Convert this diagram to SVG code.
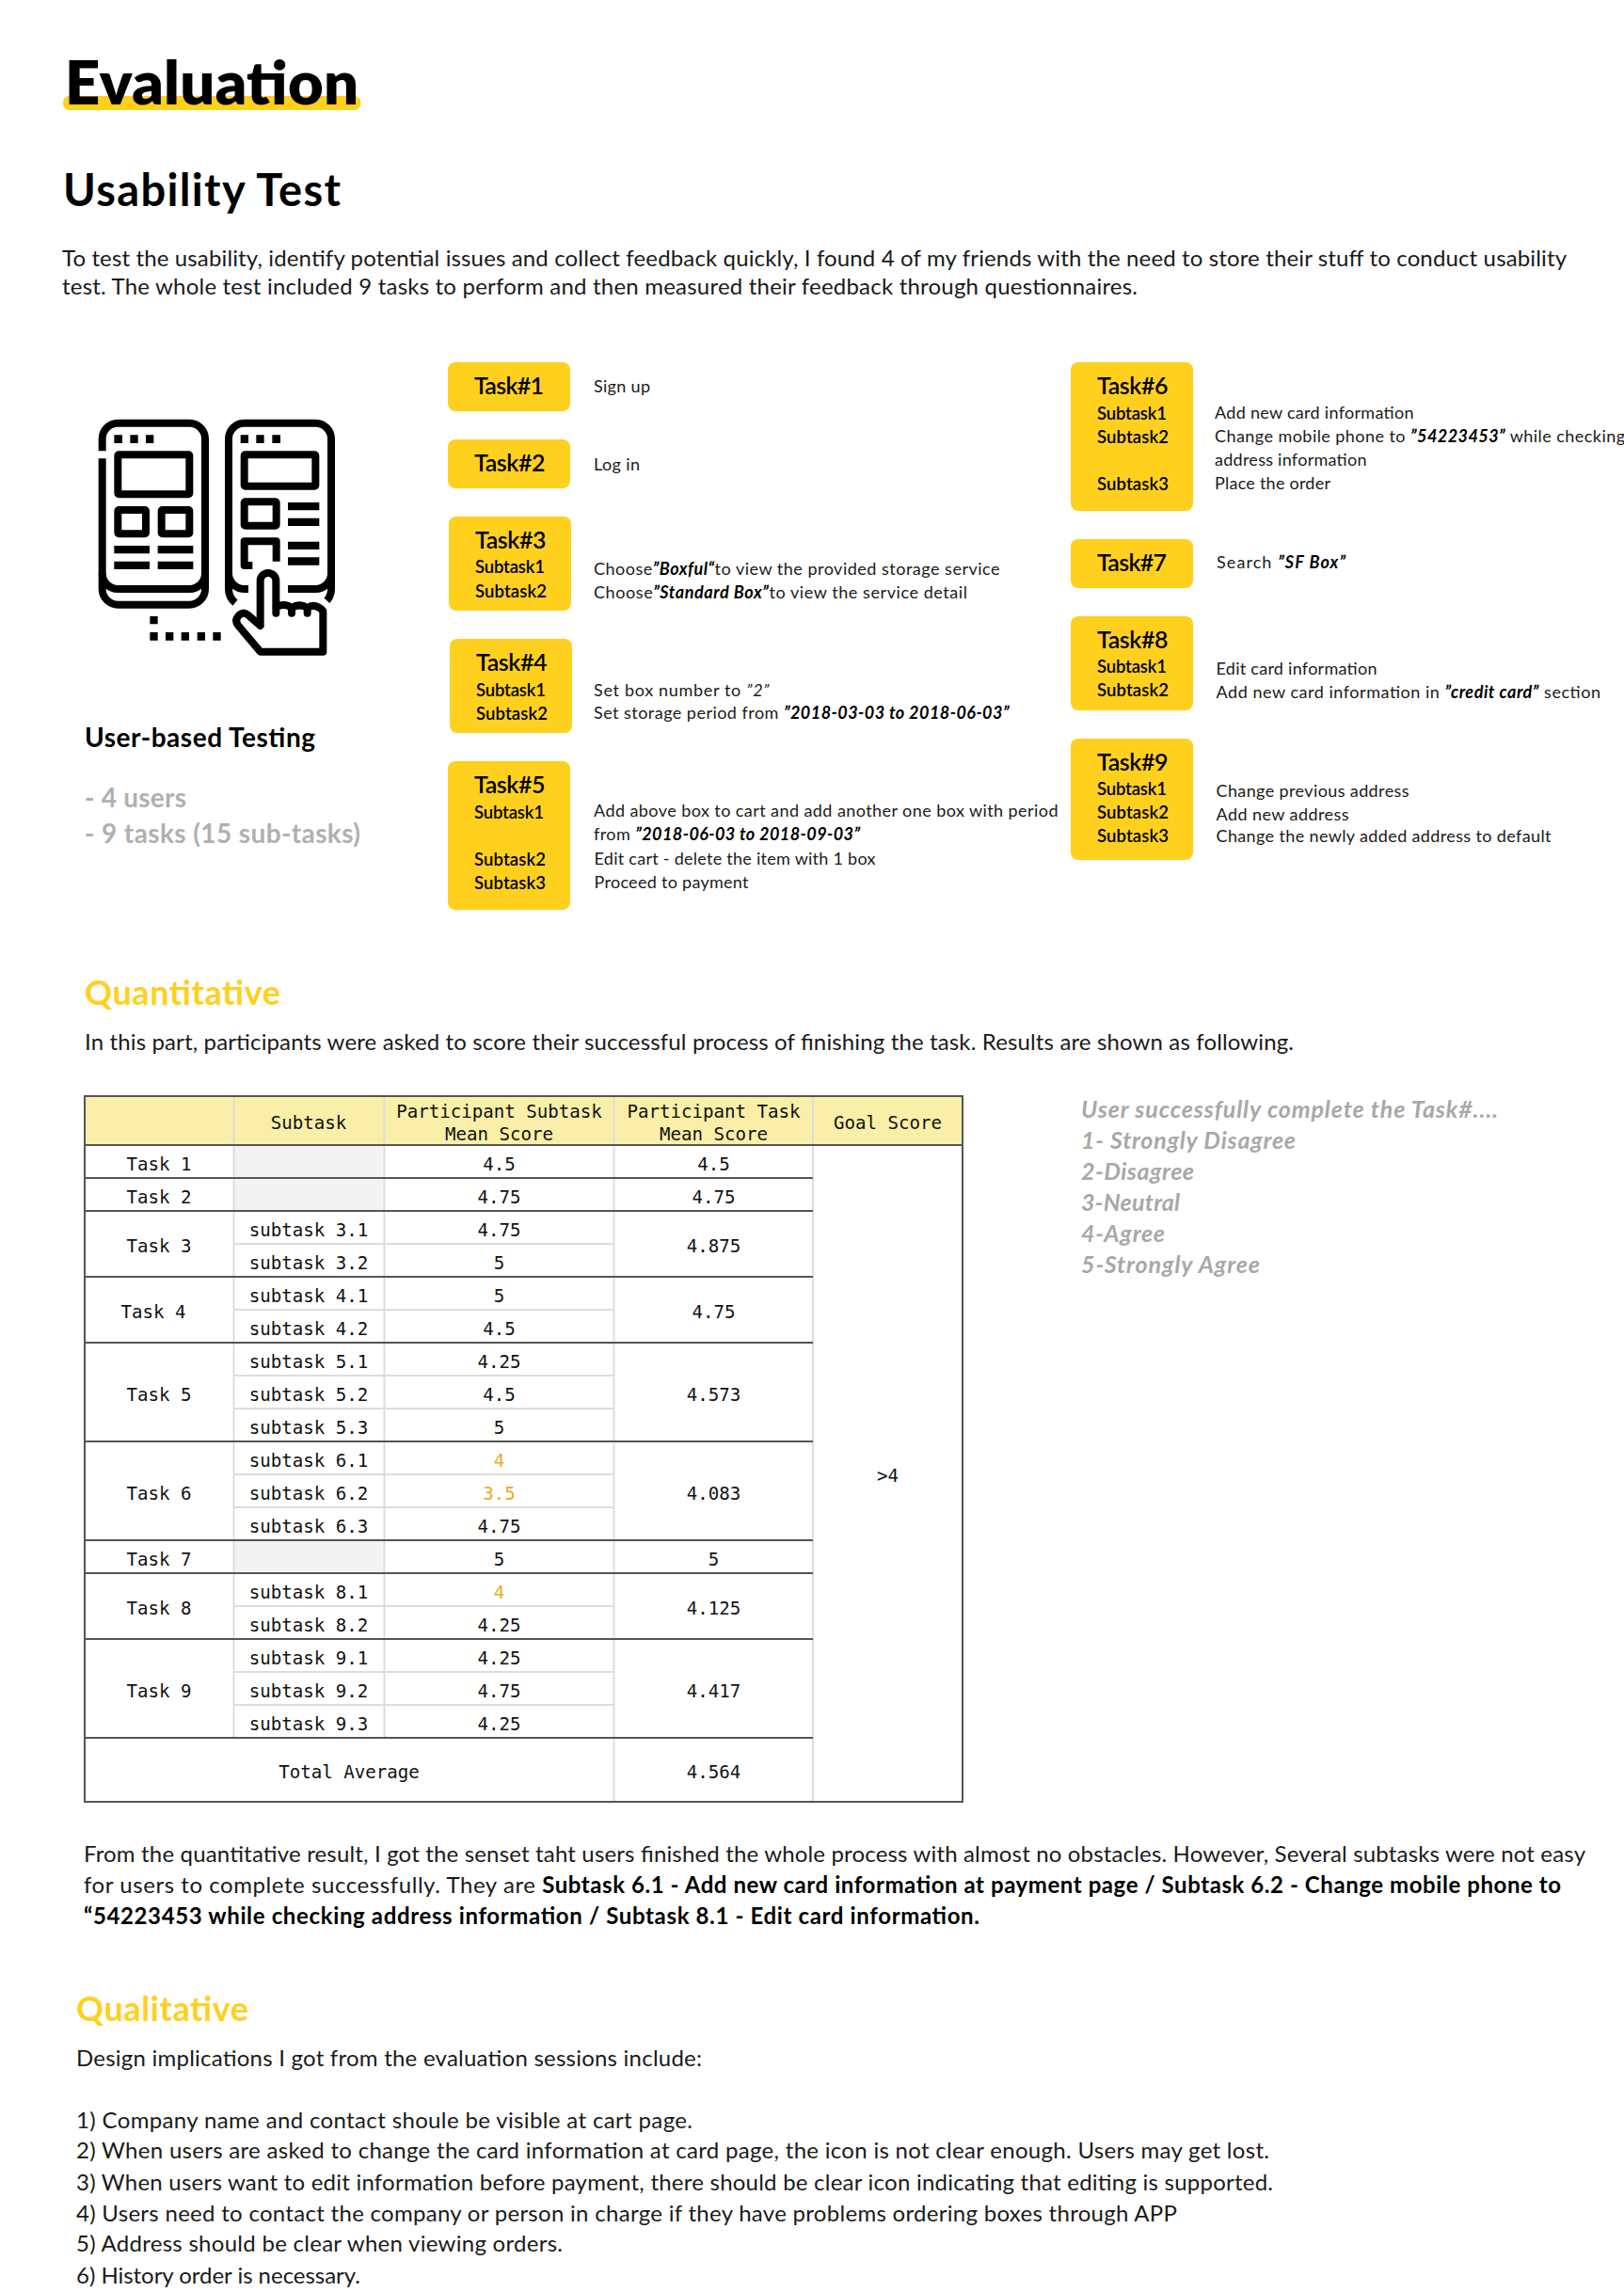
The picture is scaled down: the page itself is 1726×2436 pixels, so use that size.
<svg xmlns="http://www.w3.org/2000/svg" width="1726" height="2436" viewBox="0 0 1726 2436">
<style>
text{font-family:"Lato","Noto Sans",sans-serif;fill:#000}
.body{font-size:24px;font-weight:400;fill:#1a1a1a}
.b{font-weight:700;fill:#000}
.h{font-size:36px;font-weight:700;fill:#ffd021}
.pill{fill:#ffd01e}
.tk{font-size:25px;font-weight:600}
.st{font-size:18.5px;font-weight:600}
.d{font-size:18px;font-weight:400;fill:#1a1a1a}
.i{font-style:italic;font-weight:700;fill:#000}
.g{font-size:28px;font-weight:700;fill:#b0b0b0}
.gi{font-size:25px;font-weight:700;font-style:italic;fill:#a8a8a8}
.m{font-family:"DejaVu Sans Mono","Liberation Mono",monospace;font-size:19.1px;fill:#111;text-anchor:middle}
.o{fill:#e8ad20}
.dk{stroke:#555;stroke-width:2;fill:none}
.lt{stroke:#ddd;stroke-width:2;fill:none}
.ic{fill:none;stroke:#000;stroke-width:24;stroke-linejoin:round}
</style>
<rect width="1726" height="2436" fill="#fff"/>

<g id="title">
<rect x="67" y="102" width="316.500" height="15" rx="7" class="pill"/>
<text x="69" y="111" font-size="65" font-weight="800" textLength="312">Evaluation</text>
<text x="67" y="219" font-size="47" font-weight="700" textLength="295">Usability Test</text>
<text x="66" y="283" class="body" textLength="1599">To test the usability, identify potential issues and collect feedback quickly, I found 4 of my friends with the need to store their stuff to conduct usability</text>
<text x="66" y="313" class="body" textLength="1143">test. The whole test included 9 tasks to perform and then measured their feedback through questionnaires.</text>
</g>

<g id="icon" transform="translate(60 400) scale(0.33333)">
<path class="ic" d="M146,238V199A50,50 0 0 1 196,149H424A50,50 0 0 1 474,199V678A50,50 0 0 1 424,728H196A50,50 0 0 1 146,678V262"/>
<path class="ic" d="M146,628A50,50 0 0 0 196,678H424A50,50 0 0 0 474,628"/>
<rect class="ic" x="196" y="250" width="228" height="126" rx="3"/>
<rect class="ic" x="196" y="426" width="89" height="76" rx="3"/>
<rect class="ic" x="335" y="426" width="89" height="76" rx="3"/>
<path d="M184,187h26v26h-26zM235,187h25v26h-25zM285,187h25v26h-25zM184,540h113v25H184zM323,540h113v25H323zM184,590h113v25H184zM323,590h113v25H323z"/>
<path class="ic" d="M570,722Q549,705 549,678V199A50,50 0 0 1 599,149H826A50,50 0 0 1 876,199V678Q876,700 862,715"/>
<path class="ic" d="M549,628A50,50 0 0 0 599,678H612M738,678H826A50,50 0 0 0 876,628"/>
<rect class="ic" x="599" y="250" width="227" height="100" rx="3"/>
<rect class="ic" x="599" y="400" width="102" height="76" rx="3"/>
<path class="ic" d="M625,603H599V526H701V590"/>
<path d="M587,187h25v26h-25zM637,187h25v26h-25zM688,187h26v26h-26zM738,402h100v25H738zM738,452h100v25H738zM738,527h100v25H738zM738,577h100v25H738z"/>
<path class="ic" stroke-linecap="round" d="M650,790V652A25,25 0 0 1 700,652V755M700,735Q728,722 750,738V755M750,738Q775,722 800,738V755M800,738Q825,722 850,748V878H650L580,795Q566,778 582,762Q597,748 612,762L650,795"/>
<path d="M298,765h25v25h-25zM298,816h25v26h-25zM348,816h25v26h-25zM398,816h25v26h-25zM449,816h25v26h-25zM499,816h25v26h-25z"/>
</g>

<g id="user-based">
<text x="90" y="794" font-size="28" font-weight="700" textLength="245">User-based Testing</text>
<text x="90" y="858" class="g" textLength="108">- 4 users</text>
<text x="90" y="896" class="g" textLength="293">- 9 tasks (15 sub-tasks)</text>
</g>

<g id="task1"><rect class="pill" x="476" y="385" width="130" height="52" rx="8"/><text class="tk" x="504" y="419" textLength="74">Task#1</text><text class="d" x="631" y="416.500" textLength="60">Sign up</text></g>
<g id="task2"><rect class="pill" x="476" y="467" width="130" height="52" rx="8"/><text class="tk" x="504" y="501" textLength="75.500">Task#2</text><text class="d" x="631" y="499.500" textLength="49">Log in</text></g>
<g id="task3"><rect class="pill" x="477" y="549" width="130" height="100" rx="8"/><text class="tk" x="505" y="583" textLength="75.500">Task#3</text><text class="st" x="505" y="609" textLength="74">Subtask1</text><text class="st" x="505" y="634.500" textLength="76">Subtask2</text>
<text class="d" x="631" y="611" textLength="431.500">Choose<tspan class="i">”Boxful“</tspan>to view the provided storage service</text><text class="d" x="631" y="636" textLength="397">Choose<tspan class="i">”Standard Box”</tspan>to view the service detail</text></g>
<g id="task4"><rect class="pill" x="478" y="679" width="130" height="100" rx="8"/><text class="tk" x="506" y="713" textLength="75.500">Task#4</text><text class="st" x="506" y="739.500" textLength="74">Subtask1</text><text class="st" x="506" y="764.500" textLength="76">Subtask2</text>
<text class="d" x="631" y="739.500" textLength="186.500">Set box number to  <tspan font-style="italic">”2”</tspan></text><text class="d" x="631" y="764" textLength="441.500">Set storage period from <tspan class="i">”2018-03-03 to 2018-06-03”</tspan></text></g>
<g id="task5"><rect class="pill" x="476" y="809" width="130" height="158" rx="8"/><text class="tk" x="504" y="843" textLength="75.500">Task#5</text><text class="st" x="504" y="869.500" textLength="74">Subtask1</text><text class="st" x="504" y="919.500" textLength="76">Subtask2</text><text class="st" x="504" y="944.500" textLength="76">Subtask3</text>
<text class="d" x="631" y="868" textLength="493.500">Add above box to cart and add another one box with period</text><text class="d" x="631" y="892.500" textLength="283">from <tspan class="i">”2018-06-03 to 2018-09-03”</tspan></text><text class="d" x="631.500" y="919" textLength="299">Edit cart - delete the item with 1 box</text><text class="d" x="631.500" y="944" textLength="164">Proceed to payment</text></g>
<g id="task6"><rect class="pill" x="1138" y="385" width="130" height="158" rx="8"/><text class="tk" x="1166" y="419" textLength="75.500">Task#6</text><text class="st" x="1166" y="445.500" textLength="74">Subtask1</text><text class="st" x="1166" y="470.500" textLength="76">Subtask2</text><text class="st" x="1166" y="520.500" textLength="76">Subtask3</text>
<text class="d" x="1291" y="445" textLength="211.500">Add new card information</text><text class="d" x="1291" y="470" textLength="436">Change mobile phone to <tspan class="i">”54223453”</tspan> while checking</text><text class="d" x="1291" y="495" textLength="161.500">address information</text><text class="d" x="1291" y="520" textLength="123">Place the order</text></g>
<g id="task7"><rect class="pill" x="1138" y="573" width="130" height="52" rx="8"/><text class="tk" x="1166" y="606.500" textLength="74">Task#7</text><text class="d" x="1293" y="604" textLength="137">Search <tspan class="i">”SF Box”</tspan></text></g>
<g id="task8"><rect class="pill" x="1138" y="655" width="130" height="100" rx="8"/><text class="tk" x="1166" y="689" textLength="75.500">Task#8</text><text class="st" x="1166" y="715" textLength="74">Subtask1</text><text class="st" x="1166" y="740" textLength="76">Subtask2</text>
<text class="d" x="1292.500" y="717" textLength="171">Edit card information</text><text class="d" x="1292.500" y="742" textLength="408.500">Add new card information in <tspan class="i">”credit card”</tspan> section</text></g>
<g id="task9"><rect class="pill" x="1138" y="785" width="130" height="129" rx="8"/><text class="tk" x="1166" y="819" textLength="75.500">Task#9</text><text class="st" x="1166" y="845" textLength="74">Subtask1</text><text class="st" x="1166" y="870" textLength="76">Subtask2</text><text class="st" x="1166" y="895" textLength="76">Subtask3</text>
<text class="d" x="1292.500" y="847" textLength="205">Change previous address</text><text class="d" x="1292.500" y="872" textLength="141">Add new address</text><text class="d" x="1292.500" y="895" textLength="356">Change the newly added address to default</text></g>

<g id="quantitative">
<text class="h" x="90" y="1068" textLength="208">Quantitative</text>
<text class="body" x="90" y="1116" textLength="1285">In this part, participants were asked to score their successful process of finishing the task. Results are shown as following.</text>
</g>

<g id="scale">
<text class="gi" x="1149" y="1188" textLength="443">User successfully complete the Task#....</text>
<text class="gi" x="1149" y="1221" textLength="228">1- Strongly Disagree</text>
<text class="gi" x="1149" y="1254" textLength="120">2-Disagree</text>
<text class="gi" x="1149" y="1287" textLength="105">3-Neutral</text>
<text class="gi" x="1149" y="1320" textLength="89">4-Agree</text>
<text class="gi" x="1149" y="1353" textLength="190">5-Strongly Agree</text>
</g>

<g id="score-table">
<rect x="90" y="1165" width="933" height="52" fill="#f9efa8"/>
<path fill="#f3f3f3" d="M248.500,1217h160v70h-160zM248.500,1637h160v35h-160z"/>
<path class="lt" d="M248.500,1165V1847M408.500,1165V1847M652.500,1165V1915M864,1165V1915"/>
<path class="lt" d="M248.500,1322H652.500M248.500,1392H652.500M248.500,1462H652.500M248.500,1497H652.500M248.500,1567H652.500M248.500,1602H652.500M248.500,1707H652.500M248.500,1777H652.500M248.500,1812H652.500"/>
<path class="dk" d="M90,1217H1023M90,1252H864M90,1287H864M90,1357H864M90,1427H864M90,1532H864M90,1637H864M90,1672H864M90,1742H864M90,1847H864"/>
<rect class="dk" x="90" y="1165" width="933" height="750"/>
<g transform="translate(0 0.500)">
<text class="m" x="328" y="1199">Subtask</text>
<text class="m" x="530.500" y="1187">Participant Subtask</text><text class="m" x="530.500" y="1211">Mean Score</text>
<text class="m" x="758.500" y="1187">Participant Task</text><text class="m" x="758.500" y="1211">Mean Score</text>
<text class="m" x="943.500" y="1199">Goal Score</text>
<text class="m" x="169" y="1243">Task 1</text><text class="m" x="530.500" y="1243">4.5</text><text class="m" x="758.500" y="1243">4.5</text>
<text class="m" x="169" y="1278">Task 2</text><text class="m" x="530.500" y="1278">4.75</text><text class="m" x="758.500" y="1278">4.75</text>
<text class="m" x="169" y="1330">Task 3</text><text class="m" x="758.500" y="1330">4.875</text>
<text class="m" x="328" y="1313">subtask 3.1</text><text class="m" x="530.500" y="1313">4.75</text>
<text class="m" x="328" y="1348">subtask 3.2</text><text class="m" x="530.500" y="1348">5</text>
<text class="m" x="163" y="1400">Task 4</text><text class="m" x="758.500" y="1400">4.75</text>
<text class="m" x="328" y="1383">subtask 4.1</text><text class="m" x="530.500" y="1383">5</text>
<text class="m" x="328" y="1418">subtask 4.2</text><text class="m" x="530.500" y="1418">4.5</text>
<text class="m" x="169" y="1488">Task 5</text><text class="m" x="758.500" y="1488">4.573</text>
<text class="m" x="328" y="1453">subtask 5.1</text><text class="m" x="530.500" y="1453">4.25</text>
<text class="m" x="328" y="1488">subtask 5.2</text><text class="m" x="530.500" y="1488">4.5</text>
<text class="m" x="328" y="1523">subtask 5.3</text><text class="m" x="530.500" y="1523">5</text>
<text class="m" x="169" y="1593">Task 6</text><text class="m" x="758.500" y="1593">4.083</text>
<text class="m" x="328" y="1558">subtask 6.1</text><text class="m o" x="530.500" y="1558">4</text>
<text class="m" x="328" y="1593">subtask 6.2</text><text class="m o" x="530.500" y="1593">3.5</text>
<text class="m" x="328" y="1628">subtask 6.3</text><text class="m" x="530.500" y="1628">4.75</text>
<text class="m" x="169" y="1663">Task 7</text><text class="m" x="530.500" y="1663">5</text><text class="m" x="758.500" y="1663">5</text>
<text class="m" x="169" y="1715">Task 8</text><text class="m" x="758.500" y="1715">4.125</text>
<text class="m" x="328" y="1698">subtask 8.1</text><text class="m o" x="530.500" y="1698">4</text>
<text class="m" x="328" y="1733">subtask 8.2</text><text class="m" x="530.500" y="1733">4.25</text>
<text class="m" x="169" y="1803">Task 9</text><text class="m" x="758.500" y="1803">4.417</text>
<text class="m" x="328" y="1768">subtask 9.1</text><text class="m" x="530.500" y="1768">4.25</text>
<text class="m" x="328" y="1803">subtask 9.2</text><text class="m" x="530.500" y="1803">4.75</text>
<text class="m" x="328" y="1838">subtask 9.3</text><text class="m" x="530.500" y="1838">4.25</text>
<text class="m" x="371" y="1889">Total Average</text><text class="m" x="758.500" y="1889">4.564</text>
<text class="m" x="943.500" y="1574">&gt;4</text>
</g>
</g>

<g id="quant-summary">
<text class="body" x="89" y="1979" textLength="1596">From the quantitative result, I got the senset taht users finished the whole process with almost no obstacles. However, Several subtasks were not easy</text>
<text class="body" x="89" y="2012" textLength="1570">for users to complete successfully. They are <tspan class="b">Subtask 6.1 - Add new card information at payment page / Subtask 6.2 - Change mobile phone to</tspan></text>
<text class="body b" x="89" y="2045" textLength="952">“54223453 while checking address information / Subtask 8.1 - Edit card information.</text>
</g>

<g id="qualitative">
<text class="h" x="81" y="2148" textLength="183">Qualitative</text>
<text class="body" x="81" y="2196" textLength="665">Design implications I got from the evaluation sessions include:</text>
<text class="body" x="81" y="2262" textLength="655">1) Company name and contact shoule be visible at cart page.</text>
<text class="body" x="81" y="2294" textLength="1268">2) When users are asked to change the card information at card page, the icon is not clear enough. Users may get lost.</text>
<text class="body" x="81" y="2328" textLength="1272">3) When users want to edit information before payment, there should be clear icon indicating that editing is supported.</text>
<text class="body" x="81" y="2361" textLength="1170">4) Users need to contact the company or person in charge if they have problems ordering boxes through APP</text>
<text class="body" x="81" y="2393" textLength="517">5) Address should be clear when viewing orders.</text>
<text class="body" x="81" y="2427" textLength="302">6) History order is necessary.</text>
</g>
</svg>
